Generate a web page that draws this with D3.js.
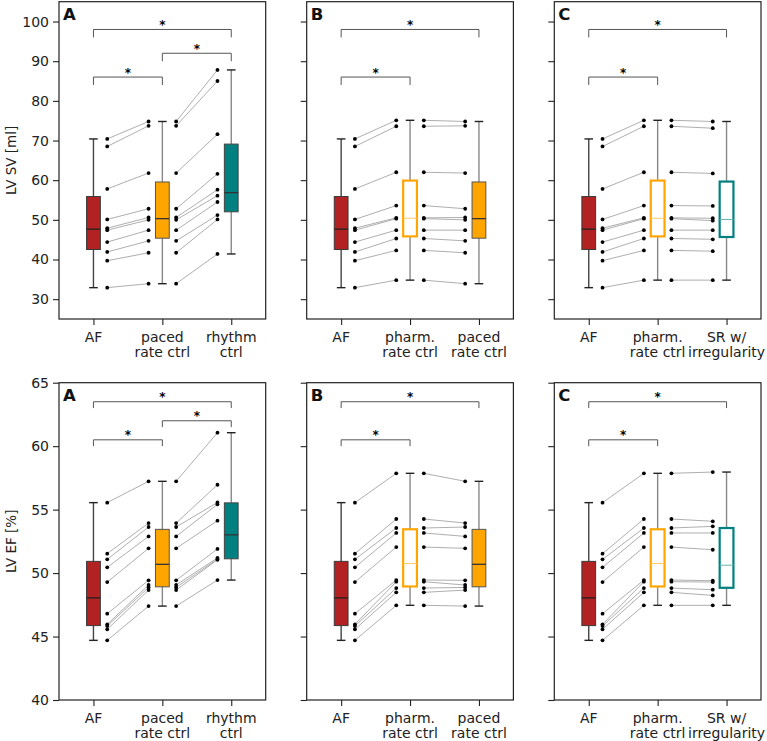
<!DOCTYPE html>
<html>
<head>
<meta charset="utf-8">
<script src="https://cdn.jsdelivr.net/npm/d3@7"></script>
<style>
  body { margin: 0; background: #fff; }
  svg { font-family: "DejaVu Sans", sans-serif; }
</style>
</head>
<body>
<div id="chart"></div>
<script>
// LV stroke volume [ml], one value per patient (same order in every list)
var svAF     = [70.4, 68.5, 57.8, 50.1, 47.9, 47.4, 44.4, 41.9, 39.7, 32.9];
var svPaced  = [74.8, 73.7, 61.8, 52.8, 50.6, 50.0, 47.4, 44.7, 41.7, 33.9];
var svRhythm = [87.8, 85.0, 71.6, 61.6, 57.6, 56.1, 54.5, 51.2, 50.1, 41.4];
var svPharm  = [75.1, 73.6, 62.0, 53.6, 50.5, 50.3, 47.4, 45.3, 42.3, 34.8];
var svSR     = [74.8, 73.1, 61.7, 53.5, 50.4, 49.8, 47.4, 45.1, 42.1, 34.8];

// LV ejection fraction [%]
var efAF     = [55.55, 51.53, 51.08, 50.45, 49.29, 46.80, 45.96, 45.83, 45.57, 44.70];
var efPaced  = [57.23, 53.94, 53.63, 52.89, 51.95, 49.43, 49.06, 48.87, 48.66, 47.40];
var efRhythm = [61.06, 56.96, 55.57, 55.42, 54.13, 51.90, 51.20, 51.10, 51.05, 49.45];
var efPharm  = [57.86, 54.26, 53.55, 53.16, 52.05, 49.45, 49.32, 48.82, 48.48, 47.46];
var efSR     = [57.96, 54.08, 53.68, 53.16, 51.84, 49.40, 49.29, 48.69, 48.24, 47.46];

var labelsA = ["AF", "paced\nrate ctrl", "rhythm\nctrl"];
var labelsB = ["AF", "pharm.\nrate ctrl", "paced\nrate ctrl"];
var labelsC = ["AF", "pharm.\nrate ctrl", "SR w/\nirregularity"];
var panelLetters = ["A", "B", "C"];

var svTicks = [30, 40, 50, 60, 70, 80, 90, 100];
var efTicks = [40, 45, 50, 55, 60, 65];
var svDomain = [25, 105];
var efDomain = [40, 65];

// significance brackets: [from, to, level]
var svBracketsA = [[0, 1, 86], [1, 2, 92], [0, 2, 98]];
var svBracketsBC = [[0, 1, 86], [0, 2, 98]];
var efBracketsA = [[0, 1, 60.5], [1, 2, 62], [0, 2, 63.5]];
var efBracketsBC = [[0, 1, 60.5], [0, 2, 63.5]];

// box styles
var styles = {
  af:      {fill: "#b22222", edge: "#3a3a3a", med: "#222", whisk: "#444", ew: 1, mw: 1.3},
  orange:  {fill: "#ffa500", edge: "#555", med: "#333", whisk: "#888", ew: 1, mw: 1.3},
  teal:    {fill: "#008080", edge: "#444", med: "#333", whisk: "#888", ew: 1, mw: 1.3},
  orangeH: {fill: "#fff", edge: "#ffa500", med: "#ffc866", whisk: "#888", ew: 2.2, mw: 1},
  tealH:   {fill: "#fff", edge: "#008080", med: "#66b3b3", whisk: "#888", ew: 2.2, mw: 1}
};

var rows = [
  {domain: svDomain, ticks: svTicks, label: "LV SV [ml]", legs: 2, panels: [
    {labels: labelsA, vals: [svAF, svPaced, svRhythm], st: ["af", "orange", "teal"], br: svBracketsA},
    {labels: labelsB, vals: [svAF, svPharm, svPaced], st: ["af", "orangeH", "orange"], br: svBracketsBC},
    {labels: labelsC, vals: [svAF, svPharm, svSR], st: ["af", "orangeH", "tealH"], br: svBracketsBC}
  ]},
  {domain: efDomain, ticks: efTicks, label: "LV EF [%]", legs: 0.5, panels: [
    {labels: labelsA, vals: [efAF, efPaced, efRhythm], st: ["af", "orange", "teal"], br: efBracketsA},
    {labels: labelsB, vals: [efAF, efPharm, efPaced], st: ["af", "orangeH", "orange"], br: efBracketsBC},
    {labels: labelsC, vals: [efAF, efPharm, efSR], st: ["af", "orangeH", "tealH"], br: efBracketsBC}
  ]}
];

var W = 767, H = 741;
var colLeft = [59, 306.7, 554.3], panelW = 206.7;
var rowTop = [1.7, 382.7], panelH = 317.3;

var svg = d3.select("#chart").append("svg").attr("width", W).attr("height", H);

function boxStats(v) {
  var s = v.slice().sort(d3.ascending);
  var q1 = d3.quantile(s, 0.25), med = d3.quantile(s, 0.5), q3 = d3.quantile(s, 0.75);
  var iqr = q3 - q1;
  return {
    q1: q1, med: med, q3: q3,
    lo: d3.min(s.filter(function(d) { return d >= q1 - 1.5 * iqr; })),
    hi: d3.max(s.filter(function(d) { return d <= q3 + 1.5 * iqr; }))
  };
}

rows.forEach(function(row, ri) {
  var y = d3.scaleLinear().domain(row.domain).range([panelH, 0]);

  row.panels.forEach(function(p, ci) {
    var x = d3.scaleLinear().domain([-0.5, 2.5]).range([0, panelW]);
    var g = svg.append("g").attr("transform", "translate(" + colLeft[ci] + "," + rowTop[ri] + ")");

    // y axis
    var ya = g.append("g").call(d3.axisLeft(y).tickValues(row.ticks).tickSize(6).tickPadding(4)
      .tickFormat(ci === 0 ? d3.format("d") : ""));
    ya.select(".domain").remove();
    ya.selectAll("line").attr("stroke", "#222").attr("stroke-width", 1.1);
    ya.selectAll("text").attr("font-size", 14).attr("font-family", "DejaVu Sans").attr("fill", "#222");

    // x axis
    var xa = g.append("g").attr("transform", "translate(0," + panelH + ")")
      .call(d3.axisBottom(x).tickValues([0, 1, 2]).tickSize(6).tickFormat(""));
    xa.select(".domain").remove();
    xa.selectAll("line").attr("stroke", "#222").attr("stroke-width", 1.1);

    p.labels.forEach(function(lab, i) {
      var t = g.append("text").attr("x", x(i)).attr("y", panelH + 23.5)
        .attr("text-anchor", "middle").attr("font-size", 14).attr("fill", "#222");
      lab.split("\n").forEach(function(line, li) {
        t.append("tspan").attr("x", x(i)).attr("dy", li === 0 ? 0 : 14.5).text(line);
      });
    });

    // paired lines
    for (var i = 0; i < 2; i++) {
      var a = p.vals[i], b = p.vals[i + 1];
      g.append("g").selectAll("line").data(d3.range(a.length)).enter().append("line")
        .attr("x1", x(i + 0.2)).attr("x2", x(i + 0.8))
        .attr("y1", function(k) { return y(a[k]); })
        .attr("y2", function(k) { return y(b[k]); })
        .attr("stroke", "#999").attr("stroke-width", 0.8);
    }

    // dots
    p.vals.forEach(function(v, i) {
      var offs = [];
      if (i < 2) offs.push(0.2);
      if (i > 0) offs.push(-0.2);
      offs.forEach(function(o) {
        g.append("g").selectAll("circle").data(v).enter().append("circle")
          .attr("cx", x(i + o)).attr("cy", function(d) { return y(d); })
          .attr("r", 1.9).attr("fill", "#000");
      });
    });

    // boxes
    p.vals.forEach(function(v, i) {
      var s = boxStats(v), st = styles[p.st[i]];
      var bx = g.append("g");
      bx.append("line").attr("x1", x(i)).attr("x2", x(i)).attr("y1", y(s.hi)).attr("y2", y(s.q3))
        .attr("stroke", st.whisk).attr("stroke-width", 1.4);
      bx.append("line").attr("x1", x(i)).attr("x2", x(i)).attr("y1", y(s.q1)).attr("y2", y(s.lo))
        .attr("stroke", st.whisk).attr("stroke-width", 1.4);
      [s.hi, s.lo].forEach(function(c) {
        bx.append("line").attr("x1", x(i - 0.0625)).attr("x2", x(i + 0.0625))
          .attr("y1", y(c)).attr("y2", y(c)).attr("stroke", "#222").attr("stroke-width", 1.4);
      });
      bx.append("rect").attr("x", x(i - 0.1)).attr("width", x(0.1) - x(-0.1))
        .attr("y", y(s.q3)).attr("height", y(s.q1) - y(s.q3))
        .attr("fill", st.fill).attr("stroke", st.edge).attr("stroke-width", st.ew);
      bx.append("line").attr("x1", x(i - 0.1)).attr("x2", x(i + 0.1))
        .attr("y1", y(s.med)).attr("y2", y(s.med))
        .attr("stroke", st.med).attr("stroke-width", st.mw);
    });

    // brackets
    p.br.forEach(function(b) {
      var lv = y(b[2]), leg = y(b[2] - row.legs);
      g.append("path")
        .attr("d", "M" + x(b[0]) + "," + leg + "V" + lv + "H" + x(b[1]) + "V" + leg)
        .attr("fill", "none").attr("stroke", "#555").attr("stroke-width", 1);
      g.append("text").attr("x", (x(b[0]) + x(b[1])) / 2).attr("y", lv - 0.5)
        .attr("text-anchor", "middle").attr("font-size", 12).attr("font-weight", "bold")
        .attr("fill", "#000").text("*");
    });

    // frame and panel letter
    g.append("rect").attr("width", panelW).attr("height", panelH)
      .attr("fill", "none").attr("stroke", "#222").attr("stroke-width", 1.2);
    g.append("text").attr("x", 4).attr("y", 18.5).attr("font-size", 16.5).attr("font-weight", "bold")
      .attr("fill", "#111").text(panelLetters[ci]);
  });

  svg.append("text")
    .attr("transform", "translate(15.5," + (rowTop[ri] + panelH / 2) + ") rotate(-90)")
    .attr("text-anchor", "middle").attr("font-size", 13.5).attr("fill", "#222").text(row.label);
});
</script>
</body>
</html>
